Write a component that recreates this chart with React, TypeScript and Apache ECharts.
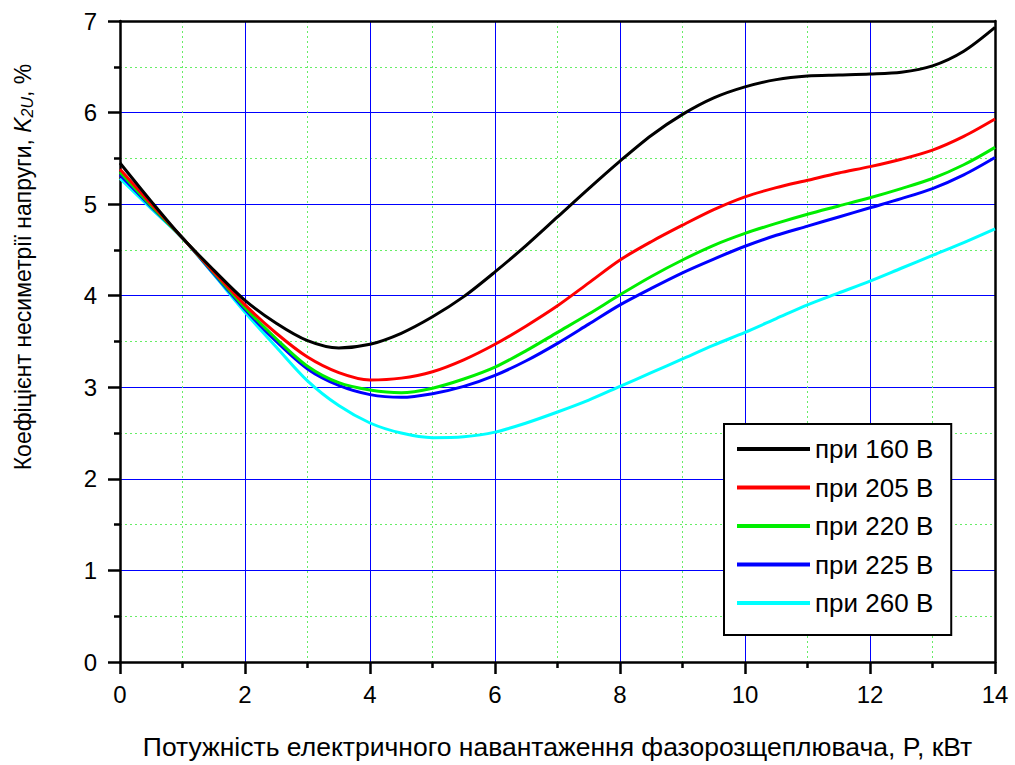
import React, { useEffect, useRef } from "react";
import * as echarts from "echarts";

const xValues = [0, 0.5, 1, 1.5, 2, 2.5, 3, 3.5, 4, 4.5, 5, 5.5, 6, 6.5, 7, 7.5, 8, 8.5, 9, 9.5, 10, 10.5, 11, 11.5, 12, 12.5, 13, 13.5, 14];

const seriesNames = ["при 160 В", "при 205 В", "при 220 В", "при 225 В", "при 260 В"];
const seriesColors = ["#000000", "#ff0000", "#00ee00", "#0000ff", "#00ffff"];

const v160 = [5.45, 5.03, 4.63, 4.28, 3.95, 3.70, 3.51, 3.43, 3.47, 3.59, 3.77, 3.99, 4.26, 4.55, 4.86, 5.17, 5.47, 5.75, 5.98, 6.16, 6.28, 6.36, 6.40, 6.41, 6.42, 6.44, 6.51, 6.67, 6.93];
const v205 = [5.38, 5.00, 4.63, 4.26, 3.90, 3.59, 3.33, 3.16, 3.08, 3.10, 3.17, 3.30, 3.47, 3.67, 3.89, 4.14, 4.39, 4.59, 4.77, 4.94, 5.08, 5.18, 5.26, 5.34, 5.41, 5.49, 5.59, 5.74, 5.93];
const v220 = [5.35, 4.98, 4.63, 4.25, 3.87, 3.53, 3.23, 3.05, 2.97, 2.94, 2.99, 3.09, 3.22, 3.40, 3.60, 3.80, 4.01, 4.21, 4.39, 4.55, 4.68, 4.79, 4.89, 4.98, 5.07, 5.17, 5.28, 5.43, 5.62];
const v225 = [5.32, 4.97, 4.63, 4.24, 3.85, 3.50, 3.20, 3.02, 2.92, 2.89, 2.93, 3.01, 3.13, 3.29, 3.48, 3.69, 3.90, 4.08, 4.25, 4.40, 4.54, 4.66, 4.76, 4.86, 4.96, 5.06, 5.17, 5.32, 5.51];
const v260 = [5.28, 4.95, 4.63, 4.23, 3.82, 3.44, 3.07, 2.80, 2.61, 2.50, 2.45, 2.46, 2.51, 2.61, 2.73, 2.86, 3.01, 3.16, 3.31, 3.46, 3.60, 3.75, 3.90, 4.03, 4.16, 4.30, 4.44, 4.58, 4.73];

const allValues = [v160, v205, v220, v225, v260];

const xTitle = "Потужність електричного навантаження фазорозщеплювача, P, кВт";
const yTitleMain = "Коефіцієнт несиметрії напруги, ";

const FONT = "'Liberation Sans', Arial, sans-serif";

export default function App() {
  const ref = useRef<HTMLDivElement>(null);
  useEffect(() => {
    if (!ref.current) return;
    const chart = echarts.init(ref.current, null, { renderer: "svg" });
    const series = allValues.map((vals, i) => ({
      name: seriesNames[i],
      type: "line",
      smooth: 0.3,
      symbol: "none",
      data: vals.map((v, j) => [xValues[j], v]),
      lineStyle: { color: seriesColors[i], width: 3 },
      itemStyle: { color: seriesColors[i] },
      z: 10 - i,
    }));
    chart.setOption({
      animation: false,
      backgroundColor: "#ffffff",
      textStyle: { fontFamily: FONT },
      grid: { left: 120, right: 20, top: 21, bottom: 99, containLabel: false },
      legend: {
        orient: "vertical",
        left: 724,
        top: 424,
        icon: "rect",
        itemWidth: 73,
        itemHeight: 4,
        itemGap: 12.5,
        backgroundColor: "#ffffff",
        borderColor: "#000000",
        borderWidth: 2,
        borderRadius: 0,
        padding: [12, 18, 19, 13],
        textStyle: { fontSize: 26, color: "#000", fontFamily: FONT },
        data: seriesNames,
        z: 20,
      },
      xAxis: [
        {
          type: "value",
          min: 0,
          max: 14,
          interval: 2,
          position: "bottom",
          axisLine: { show: true, onZero: false, lineStyle: { color: "#000", width: 2.5 } },
          axisTick: { show: true, inside: false, length: 12, lineStyle: { color: "#000", width: 2.5 } },
          minorTick: { show: true, splitNumber: 2, length: 6, lineStyle: { color: "#000", width: 2.5 } },
          axisLabel: { fontSize: 24, color: "#000", margin: 20, fontFamily: FONT },
          splitLine: { show: true, lineStyle: { color: "#0000ff", width: 1 } },
          minorSplitLine: { show: true, lineStyle: { color: "#66ee66", width: 1, type: [2, 3] } },
          name: xTitle,
          nameLocation: "middle",
          nameGap: 71,
          nameTextStyle: { fontSize: 26.5, color: "#000", fontFamily: FONT },
        },
        {
          type: "value",
          min: 0,
          max: 14,
          interval: 2,
          position: "top",
          axisLine: { show: true, onZero: false, lineStyle: { color: "#000", width: 2.5 } },
          axisTick: { show: false },
          axisLabel: { show: false },
          splitLine: { show: false },
        },
      ],
      yAxis: [
        {
          type: "value",
          min: 0,
          max: 7,
          interval: 1,
          position: "left",
          axisLine: { show: true, onZero: false, lineStyle: { color: "#000", width: 2.5 } },
          axisTick: { show: true, inside: false, length: 12, lineStyle: { color: "#000", width: 2.5 } },
          minorTick: { show: true, splitNumber: 2, length: 6, lineStyle: { color: "#000", width: 2.5 } },
          axisLabel: { fontSize: 24, color: "#000", margin: 23, fontFamily: FONT },
          splitLine: { show: true, lineStyle: { color: "#0000ff", width: 1 } },
          minorSplitLine: { show: true, lineStyle: { color: "#66ee66", width: 1, type: [2, 3] } },
        },
        {
          type: "value",
          min: 0,
          max: 7,
          interval: 1,
          position: "right",
          axisLine: { show: true, onZero: false, lineStyle: { color: "#000", width: 2.5 } },
          axisTick: { show: false },
          axisLabel: { show: false },
          splitLine: { show: false },
        },
      ],
      graphic: [
        {
          type: "text",
          x: 23,
          y: 267,
          rotation: Math.PI / 2,
          style: {
            text: yTitleMain + "{i|K}{s|2U}, %",
            font: "23px " + FONT,
            fill: "#000",
            align: "center",
            verticalAlign: "middle",
            rich: {
              i: { fontStyle: "italic", fontSize: 23, fontFamily: FONT, fill: "#000" },
              s: { fontStyle: "italic", fontSize: 16, fontFamily: FONT, fill: "#000", verticalAlign: "bottom", padding: [8, 0, 0, 0] },
            },
          },
        },
      ],
      series,
    });
    return () => chart.dispose();
  }, []);
  return (
    <div
      ref={ref}
      style={{ position: "fixed", left: 0, top: 0, width: 1015, height: 765, background: "#fff" }}
    />
  );
}
